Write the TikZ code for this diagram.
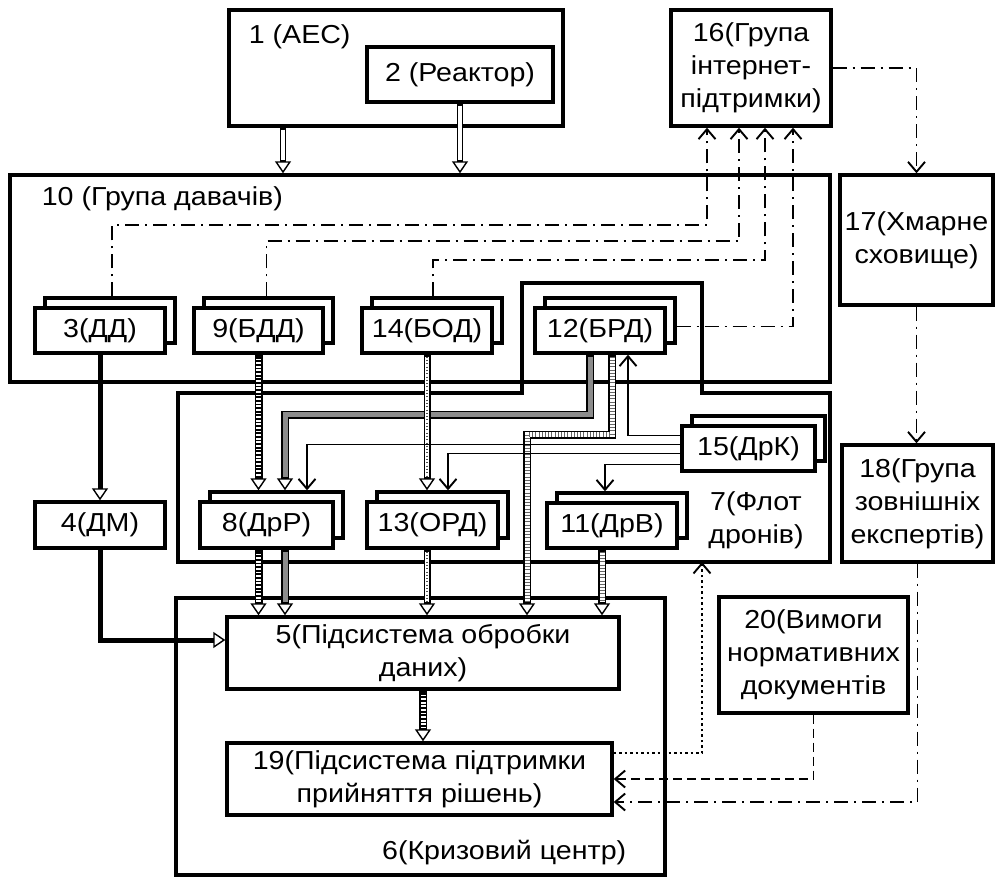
\documentclass[tikz,border=0pt]{standalone}
\usepackage{fontspec}
\setmainfont[FakeStretch=1.1]{Liberation Sans}
\usetikzlibrary{arrows.meta,shadows}

\tikzset{
	box/.style={draw, line width=3.4pt, fill=white, inner sep=0pt, align=center},
	groupbox/.style={draw, line width=3.4pt, inner sep=0pt},
	stackbox/.style={box, copy shadow={shadow xshift=10pt, shadow yshift=10pt, draw=black, fill=white, line width=3.4pt}},
	tri/.tip={Triangle[open, length=12pt, width=16pt, line width=1.4pt]},
	hollowline/.style={line width=6.5pt, -tri, postaction={draw=white, -, line width=3.6pt, shorten >=13pt, shorten <=2pt}},
	thickline/.style={line width=5pt, -tri},
	ladderline/.style={line width=8pt, -tri,
		postaction={draw=white, -, line width=5pt, shorten >=13pt, shorten <=2pt},
		postaction={draw=black, -, line width=5pt, dash pattern=on 1.8pt off 1.8pt, shorten >=13pt, shorten <=2pt}},
	darkline/.style={line width=8pt, -tri,
		postaction={draw=black!45, -, line width=5pt, shorten >=13pt, shorten <=2pt}},
	dotsline/.style={line width=7pt, -tri,
		postaction={draw=white, -, line width=4.6pt, shorten >=13pt, shorten <=2pt},
		postaction={draw=black!70, -, line width=1.4pt, dash pattern=on 0.9pt off 2.4pt, shorten >=13pt, shorten <=2pt}},
	crossline/.style={line width=8pt, -tri,
		postaction={draw=white, -, line width=5pt, shorten >=13pt, shorten <=2pt},
		postaction={draw=black!60, -, line width=5pt, dash pattern=on 1pt off 2.2pt, shorten >=13pt, shorten <=2pt}},
	thinlink/.style={line width=1.9pt, -{Straight Barb[length=10pt, width=17pt]}},
	dashdotline/.style={thinlink, dash pattern=on 14pt off 6pt on 2pt off 6pt},
	dashline/.style={thinlink, dash pattern=on 9pt off 5pt},
	dotline/.style={thinlink, dash pattern=on 2.5pt off 3pt},
}

\begin{document}
\begin{tikzpicture}[x=1pt, y=-1pt, every node/.style={font=\fontsize{26}{33}\selectfont}]
	\useasboundingbox (0,0) rectangle (1000,877);

	% top row
	\node[groupbox, minimum width=334pt, minimum height=116pt] (aes) at (396,68) {};
	\node[anchor=base west] (aeslbl) at ([shift={(18pt,-35pt)}]aes.north west) {1 (АЕС)};
	\node[box, minimum width=186pt, minimum height=55pt] (reactor) at (460,74.5) {2 (Реактор)};
	\node[box, minimum width=160pt, minimum height=116pt] (internet) at (751,68) {16(Група\\інтернет-\\підтримки)};
	\node[box, minimum width=153pt, minimum height=130pt] (cloud) at (916.5,240) {17(Хмарне\\сховище)};
	\node[box, minimum width=151pt, minimum height=117pt] (experts) at (917.5,503.5) {18(Група\\зовнішніх\\експертів)};
	\node[box, minimum width=189pt, minimum height=116pt] (norms) at (813.5,655) {20(Вимоги\\нормативних\\документів};

	% group of sensors
	\node[groupbox, minimum width=820pt, minimum height=207pt] (sensors) at (420,278.5) {};
	\node[anchor=base west] (sensorslbl) at ([shift={(30pt,-32pt)}]sensors.north west) {10 (Група давачів)};

	% fleet of drones
	\draw[line width=3.4pt] (178,393) -- (522,393) -- (522,283) -- (702,283) -- (702,393) -- (830,393) -- (830,562) -- (178,562) -- cycle;
	\coordinate (fleetbot) at (702,562);
	\node[align=center] (fleetlbl) at (756,520) {7(Флот\\дронів)};

	% crisis centre
	\node[groupbox, minimum width=489pt, minimum height=277pt] (crisis) at (420.5,736.5) {};
	\node[anchor=base east] (crisislbl) at ([shift={(-37pt,17pt)}]crisis.south east) {6(Кризовий центр)};

	\node[stackbox, minimum width=130pt, minimum height=45pt] (dd) at (100,330.5) {3(ДД)};
	\node[stackbox, minimum width=129pt, minimum height=45pt] (bdd) at (258.5,330.5) {9(БДД)};
	\node[stackbox, minimum width=130pt, minimum height=45pt] (bod) at (427,330.5) {14(БОД)};
	\node[stackbox, minimum width=130pt, minimum height=45pt] (brd) at (600,330.5) {12(БРД)};
	\node[stackbox, minimum width=133pt, minimum height=45pt] (drk) at (748.5,448.5) {15(ДрК)};
	\node[box, minimum width=130pt, minimum height=46pt] (dm) at (100,525) {4(ДМ)};
	\node[stackbox, minimum width=133pt, minimum height=46pt] (drr) at (266.5,525) {8(ДрР)};
	\node[stackbox, minimum width=131pt, minimum height=46pt] (ord) at (432.5,525) {13(ОРД)};
	\node[stackbox, minimum width=130pt, minimum height=45pt] (drv) at (612,525.5) {11(ДрВ)};
	\node[box, minimum width=392pt, minimum height=72pt] (proc) at (423,653) {5(Підсистема обробки\\даних)};
	\node[box, minimum width=385pt, minimum height=72pt] (dss) at (419.5,779) {19(Підсистема підтримки\\прийняття рішень)};

	% tops of the back copies
	\coordinate (ddtop) at ([yshift=10pt]dd.north);
	\coordinate (bddtop) at ([yshift=10pt]bdd.north);
	\coordinate (bodtop) at ([yshift=10pt]bod.north);
	\coordinate (drrtop) at ([yshift=10pt]drr.north);
	\coordinate (ordtop) at ([yshift=10pt]ord.north);
	\coordinate (drvtop) at ([yshift=10pt]drv.north);
	\coordinate (aesout) at ([xshift=-113pt]aes.south);
	\coordinate (drrout) at ([xshift=18.5pt]drr.south);
	\coordinate (drvout) at ([xshift=-10pt]drv.south);

	% data flows
	\draw[hollowline] (aesout) -- (aesout |- sensors.north);
	\draw[hollowline] (reactor.south) -- (reactor.south |- sensors.north);
	\draw[thickline] (dd.south) -- (dm.north);
	\draw[thickline] (dm.south) |- ([yshift=13pt]proc.west);
	\draw[ladderline] (bdd.south) -- (bdd.south |- drrtop);
	\draw[ladderline] (bdd.south |- drr.south) -- (bdd.south |- proc.north);
	\draw[darkline] ([xshift=-10pt]brd.south) -- ++(0,60) -| ([xshift=18.5pt]drrtop);
	\draw[darkline] (drrout) -- (drrout |- proc.north);
	\draw[dotsline] (bod.south) -- (bod.south |- ordtop);
	\draw[dotsline] (bod.south |- ord.south) -- (bod.south |- proc.north);
	\draw[crossline] ([xshift=12pt]brd.south) -- ++(0,80) -| ([xshift=104pt]proc.north);
	\draw[crossline] (drvout) -- (drvout |- proc.north);
	\draw[ladderline] (proc.south) -- (proc.south |- dss.north);

	% control of drones
	\draw[thinlink] ([yshift=13pt]drk.west) -| ([xshift=28pt]brd.south);
	\draw[thinlink] ([yshift=4pt]drk.west) -| ([xshift=40.5pt]drrtop);
	\draw[thinlink] ([yshift=-5pt]drk.west) -| ([xshift=15.5pt]ordtop);
	\draw[thinlink] ([yshift=-16pt]drk.west) -| ([xshift=-7pt]drvtop);

	% internet support
	\draw[dashdotline] ([xshift=12pt]ddtop) -- ++(0,-71) -| ([xshift=-44pt]internet.south);
	\draw[dashdotline] ([xshift=8pt]bddtop) -- ++(0,-55) -| ([xshift=-12pt]internet.south);
	\draw[dashdotline] ([xshift=6pt]bodtop) -- ++(0,-36) -| ([xshift=14pt]internet.south);
	\draw[dashdotline] ([shift={(10pt,4pt)}]brd.east) -| ([xshift=42pt]internet.south);
	\draw[dashdotline] (internet.east) -| (cloud.north);
	\draw[dashdotline] (cloud.south) -- (cloud.south |- experts.north);
	\draw[dashdotline] (experts.south) |- ([yshift=-23pt]dss.east);
	\draw[dashline] (norms.south) |- (dss.east);
	\draw[dotline] ([yshift=26pt]dss.east) -| (fleetbot);
\end{tikzpicture}
\end{document}
